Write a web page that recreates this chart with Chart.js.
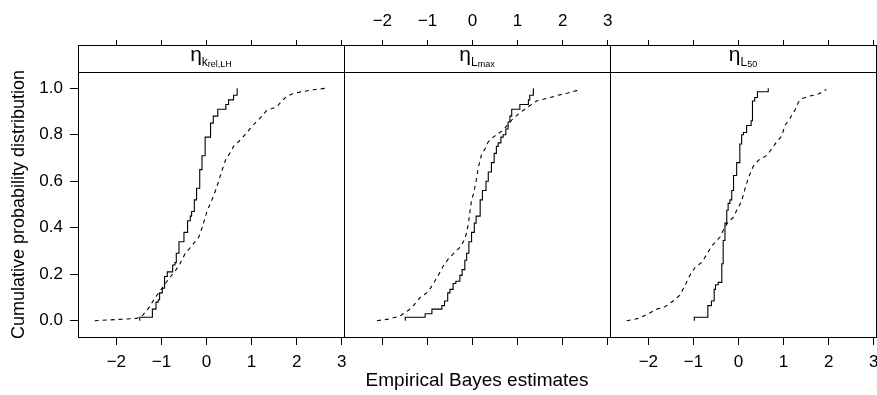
<!DOCTYPE html>
<html>
<head>
<meta charset="utf-8">
<script src="https://cdn.jsdelivr.net/npm/chart.js@4/dist/chart.umd.min.js"></script>
<style>
  body { margin: 0; background: #fff; }
  #wrap { position: relative; width: 877px; height: 395px; }
  #wrap canvas { position: absolute; left: 0; top: 0; }
</style>
</head>
<body>
<div id="wrap">
  <canvas id="panel1" width="877" height="395"></canvas>
  <canvas id="panel2" width="877" height="395"></canvas>
  <canvas id="panel3" width="877" height="395"></canvas>
</div>
<script>
// tick values
const xTicks = [-2, -1, 0, 1, 2, 3];
const yTicks = [0, 0.2, 0.4, 0.6, 0.8, 1.0];

// eta k rel,LH
const kSolidX = [-1.48, -1.48, -1.20, -1.12, -1.07, -1.04, -0.98, -0.93, -0.87, -0.75, -0.70, -0.67, -0.61, -0.50, -0.42, -0.36, -0.33, -0.27, -0.22, -0.15, -0.10, -0.03, 0.09, 0.15, 0.25, 0.43, 0.49, 0.60, 0.68];
const kSolidY = [0, 0.015, 0.05, 0.08, 0.09, 0.12, 0.14, 0.19, 0.21, 0.24, 0.25, 0.29, 0.34, 0.38, 0.43, 0.45, 0.47, 0.52, 0.57, 0.65, 0.71, 0.79, 0.85, 0.88, 0.91, 0.93, 0.95, 0.97, 1.0];
const kDashX = [-2.48, -1.55, -1.43, -1.28, -1.17, -1.06, -0.95, -0.84, -0.69, -0.59, -0.47, -0.38, -0.17, -0.08, 0.01, 0.12, 0.20, 0.27, 0.34, 0.42, 0.53, 0.60, 0.71, 0.83, 0.94, 1.05, 1.16, 1.27, 1.34, 1.56, 1.67, 1.78, 1.89, 2.11, 2.41, 2.65];
const kDashY = [0, 0.01, 0.02, 0.055, 0.09, 0.12, 0.15, 0.18, 0.215, 0.245, 0.29, 0.31, 0.36, 0.41, 0.47, 0.52, 0.56, 0.60, 0.645, 0.69, 0.725, 0.75, 0.77, 0.795, 0.82, 0.845, 0.865, 0.89, 0.905, 0.92, 0.945, 0.965, 0.975, 0.985, 0.995, 1.0];

// eta L max
const lmaxSolidX = [-1.49, -1.49, -1.05, -0.90, -0.68, -0.62, -0.55, -0.50, -0.43, -0.37, -0.28, -0.23, -0.17, -0.13, -0.08, -0.02, 0.04, 0.08, 0.17, 0.22, 0.30, 0.35, 0.42, 0.48, 0.53, 0.57, 0.63, 0.68, 0.74, 0.79, 0.83, 0.87, 1.05, 1.24, 1.27, 1.35];
const lmaxSolidY = [0, 0.015, 0.03, 0.05, 0.065, 0.085, 0.12, 0.135, 0.16, 0.17, 0.195, 0.22, 0.26, 0.29, 0.34, 0.38, 0.42, 0.45, 0.52, 0.56, 0.60, 0.64, 0.68, 0.72, 0.75, 0.765, 0.79, 0.80, 0.825, 0.855, 0.88, 0.91, 0.93, 0.95, 0.97, 1.0];
const lmaxDashX = [-2.12, -1.87, -1.61, -1.42, -1.31, -1.16, -0.98, -0.87, -0.76, -0.65, -0.54, -0.39, -0.28, -0.17, -0.13, -0.09, -0.05, -0.02, 0.02, 0.08, 0.13, 0.20, 0.28, 0.35, 0.46, 0.68, 0.90, 1.09, 1.27, 1.42, 1.72, 1.90, 2.12, 2.40];
const lmaxDashY = [0, 0.007, 0.02, 0.045, 0.065, 0.10, 0.125, 0.16, 0.195, 0.235, 0.265, 0.295, 0.315, 0.35, 0.38, 0.42, 0.48, 0.52, 0.545, 0.60, 0.66, 0.715, 0.74, 0.77, 0.79, 0.82, 0.87, 0.90, 0.925, 0.945, 0.96, 0.97, 0.98, 0.995];

// eta L 50
const l50SolidX = [-0.98, -0.98, -0.68, -0.60, -0.54, -0.51, -0.45, -0.37, -0.34, -0.30, -0.26, -0.23, -0.19, -0.15, -0.11, -0.04, 0.03, 0.07, 0.11, 0.18, 0.28, 0.31, 0.36, 0.42, 0.66];
const l50SolidY = [0, 0.015, 0.065, 0.085, 0.135, 0.155, 0.165, 0.245, 0.345, 0.42, 0.475, 0.505, 0.52, 0.56, 0.625, 0.68, 0.76, 0.80, 0.81, 0.84, 0.86, 0.945, 0.96, 0.985, 1.0];
const l50DashX = [-2.48, -2.22, -2.0, -1.81, -1.63, -1.45, -1.30, -1.19, -1.08, -0.96, -0.82, -0.72, -0.60, -0.48, -0.41, -0.31, -0.23, -0.11, -0.04, 0.03, 0.07, 0.14, 0.22, 0.33, 0.44, 0.62, 0.70, 0.85, 0.96, 1.03, 1.14, 1.25, 1.33, 1.40, 1.55, 1.77, 1.95];
const l50DashY = [0, 0.01, 0.03, 0.05, 0.06, 0.085, 0.11, 0.15, 0.195, 0.23, 0.25, 0.28, 0.32, 0.345, 0.36, 0.40, 0.425, 0.445, 0.475, 0.50, 0.515, 0.565, 0.615, 0.665, 0.69, 0.71, 0.73, 0.77, 0.795, 0.84, 0.87, 0.905, 0.94, 0.955, 0.965, 0.975, 0.995];

Chart.defaults.font.family = '"Liberation Sans", Arial, sans-serif';
Chart.defaults.color = '#000';

const W = 877;
const plotLeft = 78;
const panelW = 266;
const stripTop = 45;

function pts(xs, ys) {
  return xs.map((x, i) => ({ x: x, y: ys[i] }));
}

function fmt(v) {
  return v < 0 ? '\u2212' + Math.abs(v) : String(v);
}

// panel box + strip with the eta label
const panelFrame = {
  id: 'panelFrame',
  afterDraw(chart, args, opts) {
    const ctx = chart.ctx;
    const a = chart.chartArea;
    const l = Math.round(a.left) + 0.5, r = Math.round(a.right) + 0.5;
    const t = Math.round(a.top) + 0.5, b = Math.round(a.bottom) + 0.5;
    const st = stripTop + 0.5;
    ctx.save();
    ctx.fillStyle = '#fff';
    ctx.fillRect(l + 0.5, st + 0.5, r - l - 1, t - st - 1);
    ctx.strokeStyle = '#000';
    ctx.lineWidth = 1;
    ctx.strokeRect(l, st, r - l, b - st);
    ctx.beginPath();
    ctx.moveTo(l, t);
    ctx.lineTo(r, t);
    ctx.stroke();

    const fam = '"Liberation Sans", Arial, sans-serif';
    const f1 = '21px ' + fam, f2 = '12px ' + fam, f3 = '9px ' + fam;
    ctx.fillStyle = '#000';
    ctx.textAlign = 'left';
    ctx.textBaseline = 'alphabetic';
    ctx.font = f1; const w1 = ctx.measureText('\u03b7').width;
    ctx.font = f2; const w2 = ctx.measureText(opts.sub).width;
    ctx.font = f3; const w3 = ctx.measureText(opts.subsub).width;
    let x = (a.left + a.right) / 2 - (w1 + w2 + w3) / 2;
    ctx.font = f1; ctx.fillText('\u03b7', x, 61); x += w1;
    ctx.font = f2; ctx.fillText(opts.sub, x, 66); x += w2;
    ctx.font = f3; ctx.fillText(opts.subsub, x, 66.5);
    ctx.restore();
  }
};

const axisGrid = (len) => ({
  drawOnChartArea: false,
  drawTicks: true,
  tickLength: len,
  color: '#000',
  lineWidth: 1
});

function noPad(ax) {
  ax.paddingLeft = 0;
  ax.paddingRight = 0;
  ax.paddingTop = 0;
  ax.paddingBottom = 0;
}

function makePanel(id, k, sx, sy, dx, dy, sub, subsub) {
  const left = plotLeft + k * panelW;
  const right = left + panelW;
  return new Chart(document.getElementById(id), {
    type: 'line',
    data: {
      datasets: [
        {
          data: pts(sx, sy),
          borderColor: '#000',
          borderWidth: 1.1,
          stepped: true,
          pointRadius: 0,
          fill: false
        },
        {
          data: pts(dx, dy),
          borderColor: '#000',
          borderWidth: 1.1,
          borderDash: [4, 4],
          tension: 0,
          pointRadius: 0,
          fill: false
        }
      ]
    },
    plugins: [panelFrame],
    options: {
      responsive: false,
      animation: false,
      events: [],
      layout: {
        autoPadding: false,
        padding: { left: k === 0 ? 0 : left, right: W - right, top: 0, bottom: 0 }
      },
      plugins: {
        legend: { display: false },
        tooltip: { enabled: false },
        panelFrame: { sub: sub, subsub: subsub }
      },
      scales: {
        x: {
          type: 'linear',
          position: 'bottom',
          min: -2.85,
          max: 3.05,
          afterBuildTicks: (ax) => { ax.ticks = xTicks.map(v => ({ value: v })); },
          afterFit: (ax) => { ax.height = 58; noPad(ax); },
          grid: axisGrid(8),
          border: { display: true, color: '#000' },
          ticks: {
            display: k !== 1,
            padding: 7,
            maxRotation: 0,
            autoSkip: false,
            font: { size: 17 },
            callback: fmt
          },
          title: {
            display: k === 1,
            text: 'Empirical Bayes estimates',
            font: { size: 19 },
            padding: { top: 0, bottom: 3 }
          }
        },
        xTop: {
          type: 'linear',
          position: 'top',
          min: -2.85,
          max: 3.05,
          afterBuildTicks: (ax) => { ax.ticks = xTicks.map(v => ({ value: v })); },
          afterFit: (ax) => { ax.height = 72; noPad(ax); },
          grid: axisGrid(32),
          border: { display: true, color: '#000' },
          ticks: {
            display: k === 1,
            padding: 8,
            maxRotation: 0,
            autoSkip: false,
            font: { size: 17 },
            callback: fmt
          }
        },
        y: {
          type: 'linear',
          display: k === 0,
          position: 'left',
          min: -0.07,
          max: 1.07,
          afterBuildTicks: (ax) => { ax.ticks = yTicks.map(v => ({ value: v })); },
          afterFit: (ax) => { ax.width = k === 0 ? plotLeft : 0; noPad(ax); },
          grid: axisGrid(8),
          border: { display: true, color: '#000' },
          ticks: {
            padding: 7,
            font: { size: 17 },
            callback: (v) => Number(v).toFixed(1)
          },
          title: {
            display: true,
            text: 'Cumulative probability distribution',
            font: { size: 18 },
            padding: { top: 8, bottom: 0 }
          }
        }
      }
    }
  });
}

makePanel('panel1', 0, kSolidX, kSolidY, kDashX, kDashY, 'k', 'rel,LH');
makePanel('panel2', 1, lmaxSolidX, lmaxSolidY, lmaxDashX, lmaxDashY, 'L', 'max');
makePanel('panel3', 2, l50SolidX, l50SolidY, l50DashX, l50DashY, 'L', '50');
</script>
</body>
</html>
